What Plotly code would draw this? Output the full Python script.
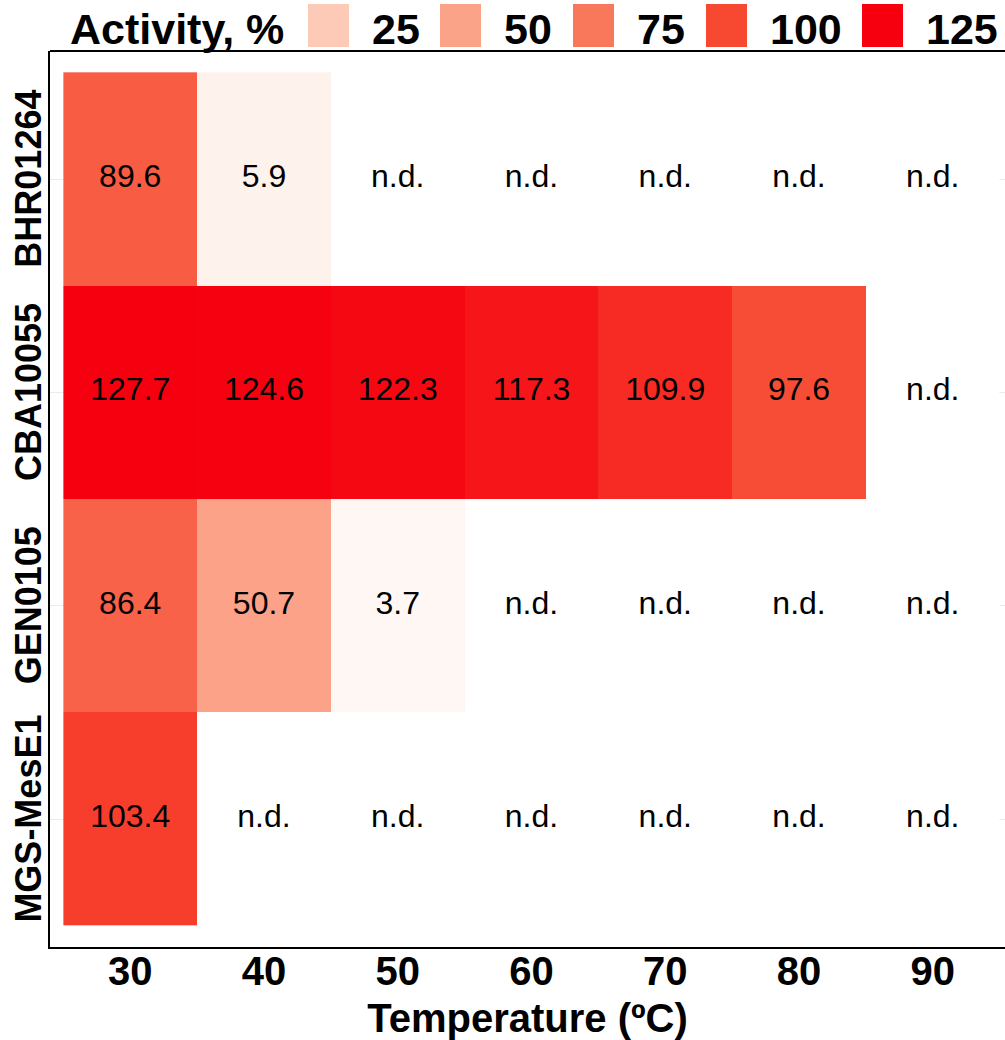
import plotly.graph_objects as go

# --- data -------------------------------------------------------------
temperatures = ["30", "40", "50", "60", "70", "80", "90"]
enzymes = ["BHR01264", "CBA10055", "GEN0105", "MGS-MesE1"]
# relative activity (%) per enzyme; None = not detected
act_BHR01264 = [89.6, 5.9, None, None, None, None, None]
act_CBA10055 = [127.7, 124.6, 122.3, 117.3, 109.9, 97.6, None]
act_GEN0105 = [86.4, 50.7, 3.7, None, None, None, None]
act_MGS_MesE1 = [103.4, None, None, None, None, None, None]
legend_breaks = [25, 50, 75, 100, 125]

activity = [act_BHR01264, act_CBA10055, act_GEN0105, act_MGS_MesE1]

# --- colour scale (value -> colour anchors) ---------------------------
zmin, zmax = 3.7, 127.7
anchors = [
    (3.7, "#FEF7F3"),
    (25, "#FCCAB7"),
    (50, "#FBA389"),
    (75, "#F9785B"),
    (100, "#F74832"),
    (125, "#F6000F"),
    (127.7, "#F6000F"),
]
colorscale = [[(v - zmin) / (zmax - zmin), c] for v, c in anchors]
anchor_color = {v: c for v, c in anchors}

FONT = "Liberation Sans, Arial, sans-serif"

W, H = 1005, 1040
ML, MR, MT, MB = 50, 0, 51, 93
plot_w = W - ML - MR
plot_h = H - MT - MB


def px_x(p):
    return (p - ML) / plot_w


def px_y(p):
    return (H - MB - p) / plot_h


fig = go.Figure()

# not-detected cells are painted white (they hide the grid like the others)
nd_mask = [[1 if v is None else None for v in row] for row in activity]
fig.add_trace(go.Heatmap(
    x=temperatures, y=enzymes, z=nd_mask,
    colorscale=[[0, "white"], [1, "white"]],
    showscale=False, hoverinfo="skip",
))

fig.add_trace(go.Heatmap(
    x=temperatures,
    y=enzymes,
    z=activity,
    zmin=zmin,
    zmax=zmax,
    colorscale=colorscale,
    showscale=False,
    hoverinfo="skip",
))

# cell labels
tx, ty, tt = [], [], []
for name, row in zip(enzymes, activity):
    for t, v in zip(temperatures, row):
        tx.append(t)
        ty.append(name)
        tt.append("n.d." if v is None else f"{v:.1f}")

fig.add_trace(go.Scatter(
    x=tx, y=ty, text=tt, mode="text",
    textfont=dict(family=FONT, size=32, color="black"),
    hoverinfo="skip", showlegend=False,
))

# --- legend drawn along the top ---------------------------------------
shapes = []
annotations = []
annotations.append(dict(
    text="<b>Activity, %</b>", x=px_x(68), y=px_y(29),
    xref="paper", yref="paper", xanchor="left", yanchor="middle",
    showarrow=False, font=dict(family=FONT, size=43, color="black"),
))
swatch_left = [308, 440, 573, 706, 862]
for b, xl in zip(legend_breaks, swatch_left):
    shapes.append(dict(
        type="rect", xref="paper", yref="paper",
        x0=px_x(xl), x1=px_x(xl + 41), y0=px_y(47), y1=px_y(4),
        fillcolor=anchor_color[b], line=dict(width=0), layer="above",
    ))
    annotations.append(dict(
        text=f"<b>{b}</b>", x=px_x(xl + 62), y=px_y(29),
        xref="paper", yref="paper", xanchor="left", yanchor="middle",
        showarrow=False, font=dict(family=FONT, size=43, color="black"),
    ))

# top border of the panel
shapes.append(dict(
    type="line", xref="paper", yref="paper",
    x0=0, x1=1.05, y0=1, y1=1, line=dict(color="black", width=2),
))

fig.update_layout(
    width=W, height=H,
    margin=dict(l=ML, r=MR, t=MT, b=MB),
    paper_bgcolor="white", plot_bgcolor="white",
    showlegend=False,
    shapes=shapes,
    annotations=annotations,
    font=dict(family=FONT, color="black"),
)

fig.update_xaxes(
    type="category", range=[-0.6, 6.54],
    showgrid=False, zeroline=False,
    showline=True, linecolor="black", linewidth=2,
    ticks="", ticklabelstandoff=-12,
    tickfont=dict(family=FONT, size=40, color="black"),
    ticktext=[f"<b>{t}</b>" for t in temperatures], tickvals=temperatures,
    title=dict(text="<b>Temperature (ºC)</b>", font=dict(family=FONT, size=40, color="black"), standoff=14),
    automargin=False,
)
fig.update_yaxes(
    type="category", range=[3.6, -0.6],
    showgrid=True, gridcolor="#EBEBEB", gridwidth=1, zeroline=False,
    showline=True, linecolor="black", linewidth=2,
    ticks="", tickangle=-90, ticklabelstandoff=-7, ticklabelshift=-5,
    tickfont=dict(family=FONT, size=36, color="black"),
    ticktext=[f"<b>{e}</b>" for e in enzymes], tickvals=enzymes,
    automargin=False,
)

fig.write_html("out.html")
